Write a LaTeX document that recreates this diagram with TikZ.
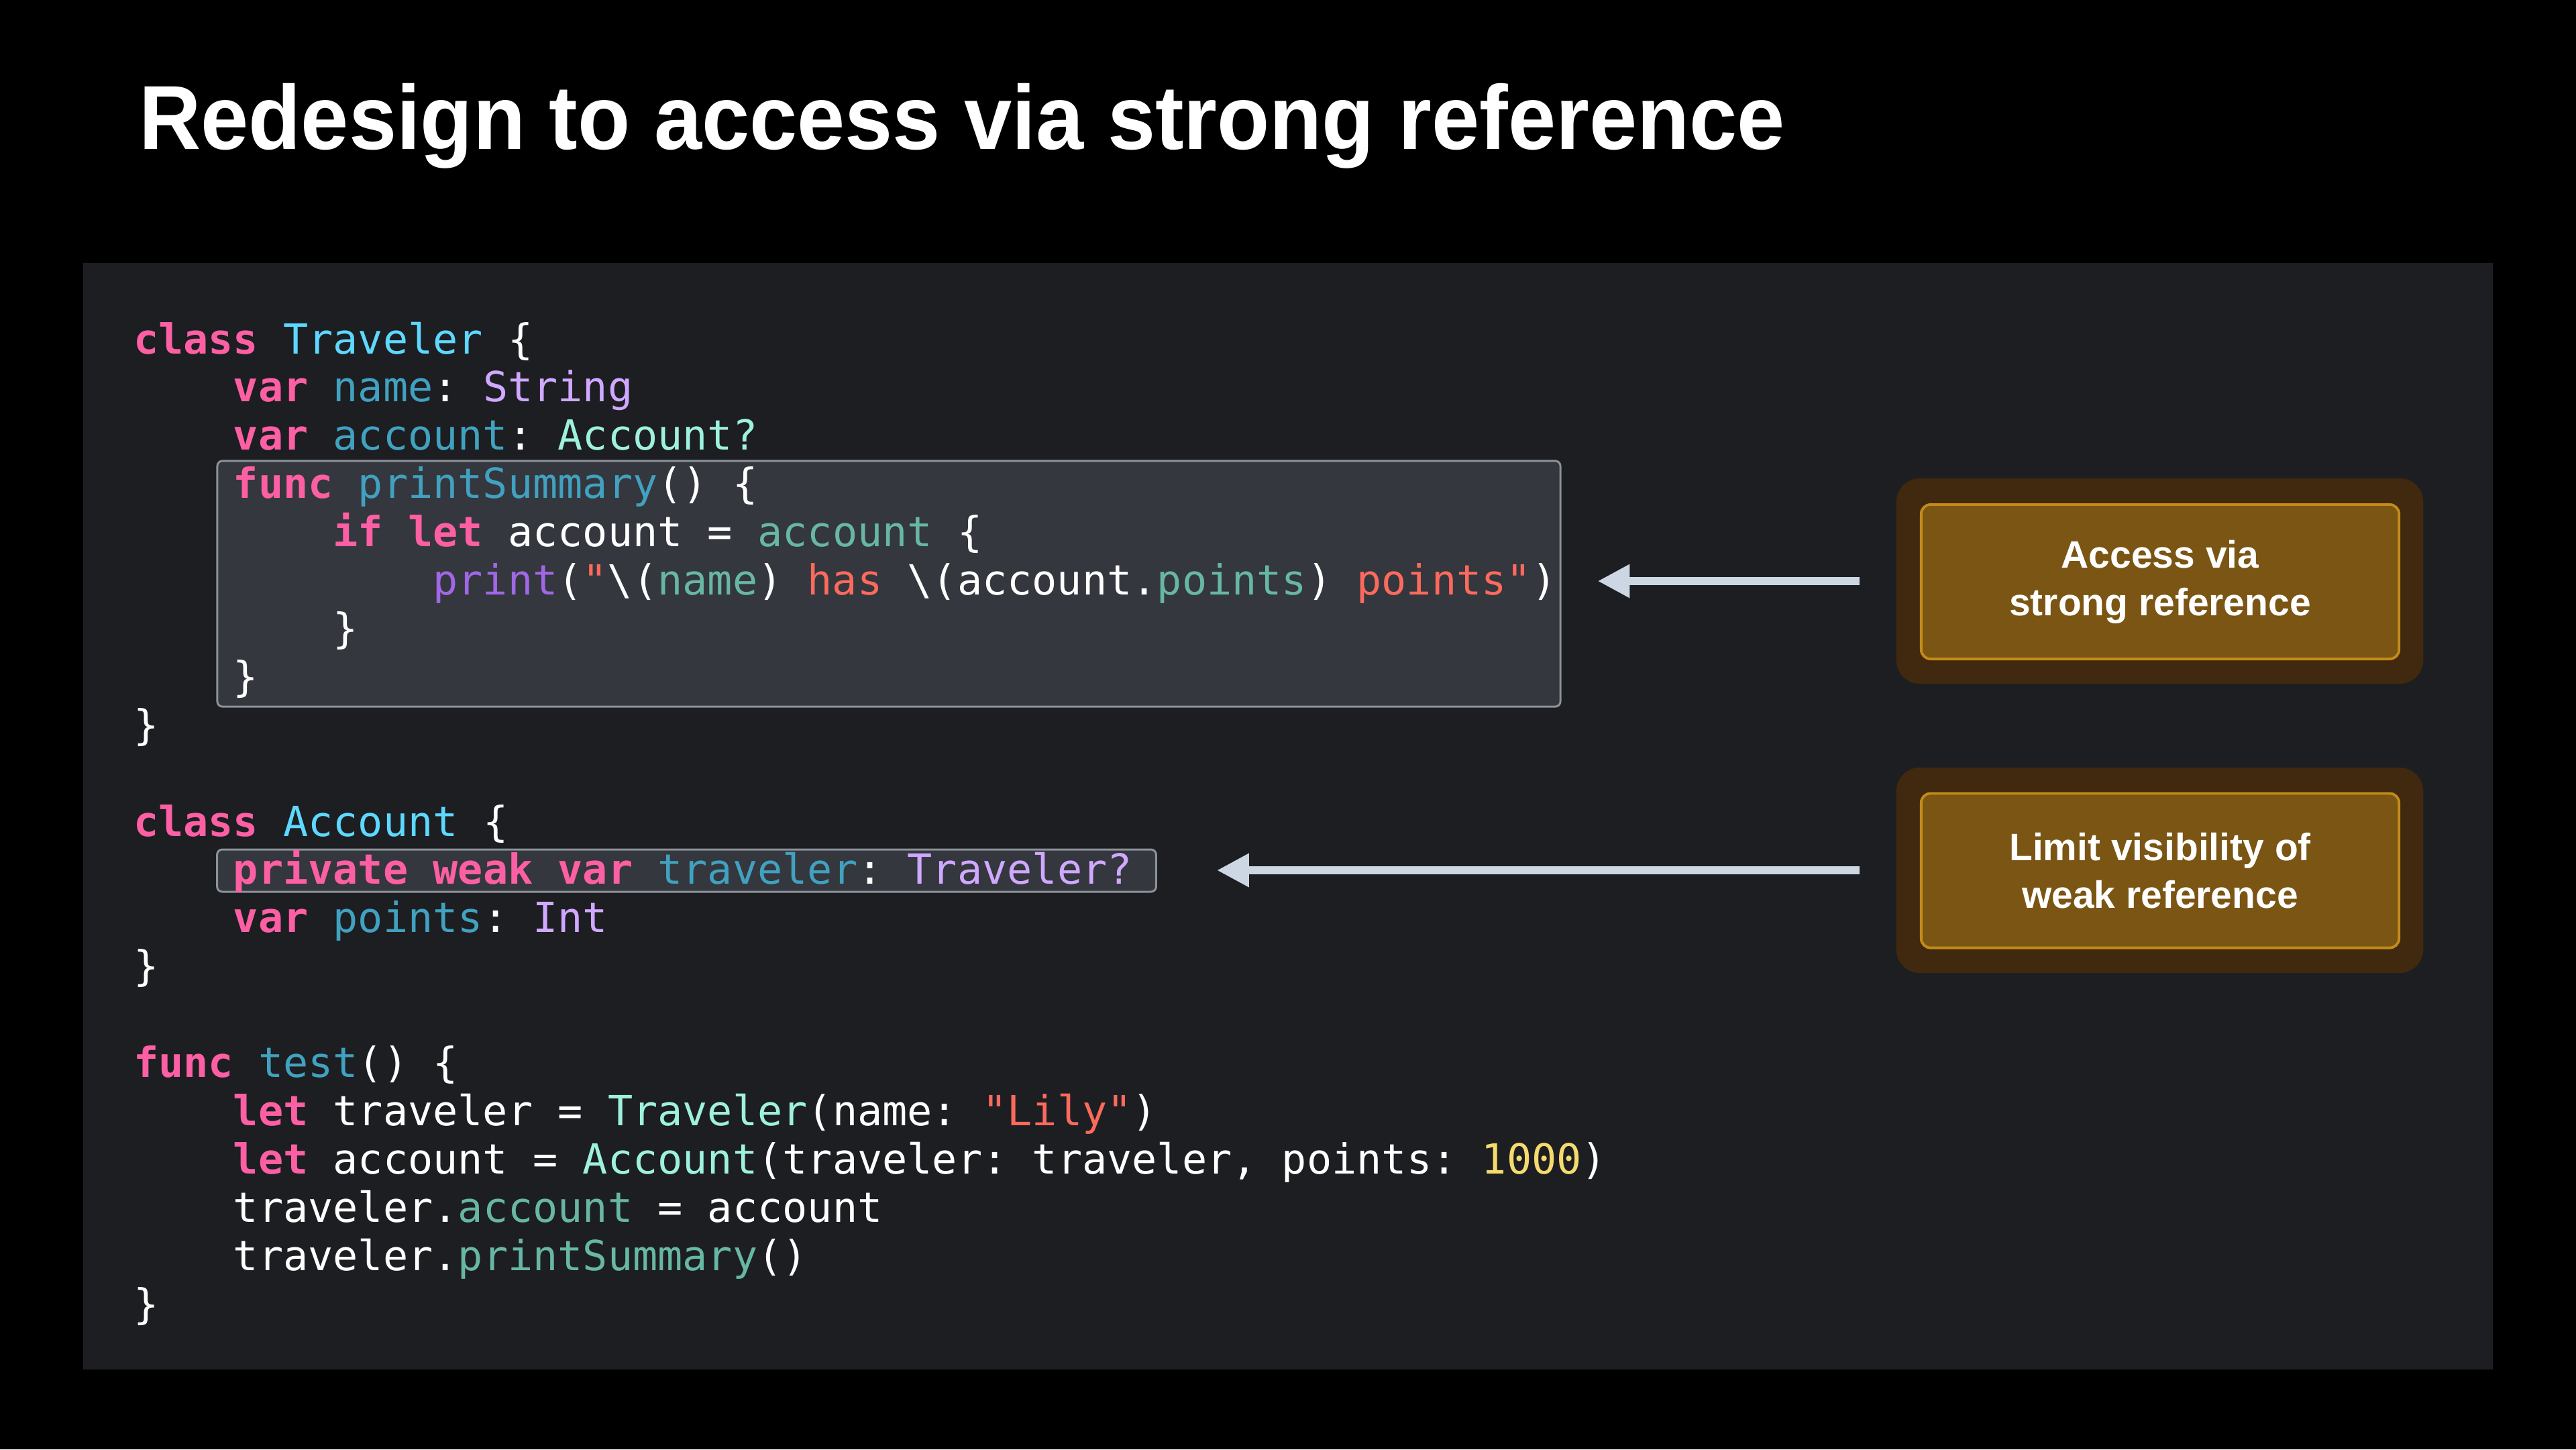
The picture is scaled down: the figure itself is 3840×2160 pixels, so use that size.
\documentclass[tikz,border=0pt]{standalone}
\usepackage{fontspec}
\setmainfont{Liberation Sans}
\newfontfamily\codefont{DejaVu Sans Mono}
\usetikzlibrary{arrows.meta}
\definecolor{pagebg}{HTML}{000000}
\definecolor{panelbg}{HTML}{1D1E22}
\definecolor{hlfill}{HTML}{34373D}
\definecolor{hlline}{HTML}{8C9299}
\definecolor{cplain}{HTML}{FFFFFF}
\definecolor{ckw}{HTML}{FC5FA3}
\definecolor{cdt}{HTML}{5DD8FF}
\definecolor{cdo}{HTML}{41A1C0}
\definecolor{cot}{HTML}{D0A8FF}
\definecolor{cpt}{HTML}{9EF1DD}
\definecolor{cpp}{HTML}{67B7A4}
\definecolor{cof}{HTML}{A167E6}
\definecolor{cst}{HTML}{FC6A5D}
\definecolor{cnm}{HTML}{F5DB6E}
\definecolor{arrowc}{HTML}{CCD7E3}
\definecolor{boxouter}{HTML}{40290E}
\definecolor{boxfill}{HTML}{7B5514}
\definecolor{boxline}{HTML}{C28B1A}
\newcommand\cKw[1]{{\bfseries\color{ckw}#1}}
\newcommand\cDt[1]{{\color{cdt}#1}}
\newcommand\cDo[1]{{\color{cdo}#1}}
\newcommand\cOt[1]{{\color{cot}#1}}
\newcommand\cPt[1]{{\color{cpt}#1}}
\newcommand\cPp[1]{{\color{cpp}#1}}
\newcommand\cOf[1]{{\color{cof}#1}}
\newcommand\cSt[1]{{\color{cst}#1}}
\newcommand\cNm[1]{{\color{cnm}#1}}
\newcommand\bsl{\textbackslash}
\begin{document}
\begin{tikzpicture}[x=0.01cm,y=-0.01cm,
  codeln/.style={anchor=base west,inner sep=0pt,outer sep=0pt,text=cplain,
    font=\codefont\fontsize{17.58pt}{20pt}\selectfont\frenchspacing},
  hlbox/.style={draw=hlline,line width=0.85pt,fill=hlfill,rounded corners=2.2pt,inner sep=0pt},
  outerbox/.style={fill=boxouter,rounded corners=0.35cm,inner sep=0pt,minimum width=7.85cm,minimum height=3.06cm},
  innerbox/.style={fill=boxfill,draw=boxline,line width=1.1pt,rounded corners=0.14cm,inner sep=0pt,
    minimum width=7.12cm,minimum height=2.30cm,align=center,text=white,
    font=\fontsize{16.2pt}{20.2pt}\selectfont\bfseries},
  arr/.style={draw=arrowc,line width=3.4pt,-{Triangle[length=13.6pt,width=13.4pt]}},
  titletext/.style={anchor=base west,inner sep=0pt,text=white}
]
\useasboundingbox[fill=pagebg] (0,0) rectangle (3840,2160);
% title
\node[titletext] (title) at (206.5,222) {\scalebox{0.944}[1]{\fontsize{38.55pt}{40pt}\selectfont\bfseries Redesign to access via strong reference}};
% code panel
\node[fill=panelbg,inner sep=0pt,minimum width=35.90cm,minimum height=16.48cm] (panel) at (1920,1216) {};
% highlight boxes
\node[hlbox,minimum width=20.01cm,minimum height=3.66cm] (hl1) at (1325,870) {};
\node[hlbox,minimum width=13.99cm,minimum height=0.63cm] (hl2) at (1023.5,1297.5) {};
% code lines
\node[codeln] (l0) at (199,527) {\cKw{class} \cDt{Traveler} \{};
\node[codeln] (l1) at (347.8,598.9) {\cKw{var} \cDo{name}: \cOt{String}};
\node[codeln] (l2) at (347.8,670.8) {\cKw{var} \cDo{account}: \cPt{Account?}};
\node[codeln] (l3) at (347.8,742.7) {\cKw{func} \cDo{printSummary}() \{};
\node[codeln] (l4) at (496.6,814.6) {\cKw{if} \cKw{let} account = \cPp{account} \{};
\node[codeln] (l5) at (645.4,886.5) {\cOf{print}(\cSt{"}\bsl(\cPp{name}) \cSt{has} \bsl(account.\cPp{points}) \cSt{points"})};
\node[codeln] (l6) at (496.6,958.4) {\}};
\node[codeln] (l7) at (347.8,1030.3) {\}};
\node[codeln] (l8) at (199,1102.2) {\}};
\node[codeln] (l10) at (199,1246) {\cKw{class} \cDt{Account} \{};
\node[codeln] (l11) at (347.8,1317.9) {\cKw{private} \cKw{weak} \cKw{var} \cDo{traveler}: \cOt{Traveler?}};
\node[codeln] (l12) at (347.8,1389.8) {\cKw{var} \cDo{points}: \cOt{Int}};
\node[codeln] (l13) at (199,1461.7) {\}};
\node[codeln] (l15) at (199,1605.5) {\cKw{func} \cDo{test}() \{};
\node[codeln] (l16) at (347.8,1677.4) {\cKw{let} traveler = \cPt{Traveler}(name: \cSt{"Lily"})};
\node[codeln] (l17) at (347.8,1749.3) {\cKw{let} account = \cPt{Account}(traveler: traveler, points: \cNm{1000})};
\node[codeln] (l18) at (347.8,1821.2) {traveler.\cPp{account} = account};
\node[codeln] (l19) at (347.8,1893.1) {traveler.\cPp{printSummary}()};
\node[codeln] (l20) at (199,1965) {\}};
% callout boxes
\node[outerbox] (bo1) at (3219.5,866) {};
\node[innerbox] (bi1) at (3220,867) {Access via\\strong reference};
\node[outerbox] (bo2) at (3219.5,1297) {};
\node[innerbox] (bi2) at (3220,1297.5) {Limit visibility of\\weak reference};
% arrows
\draw[arr,shorten <=0.54cm,shorten >=0.54cm] (bo1.west) -- (hl1.east |- bo1.west);
\draw[arr,shorten <=0.54cm,shorten >=0.89cm] (bo2.west) -- (hl2.east |- bo2.west);
\end{tikzpicture}
\end{document}
